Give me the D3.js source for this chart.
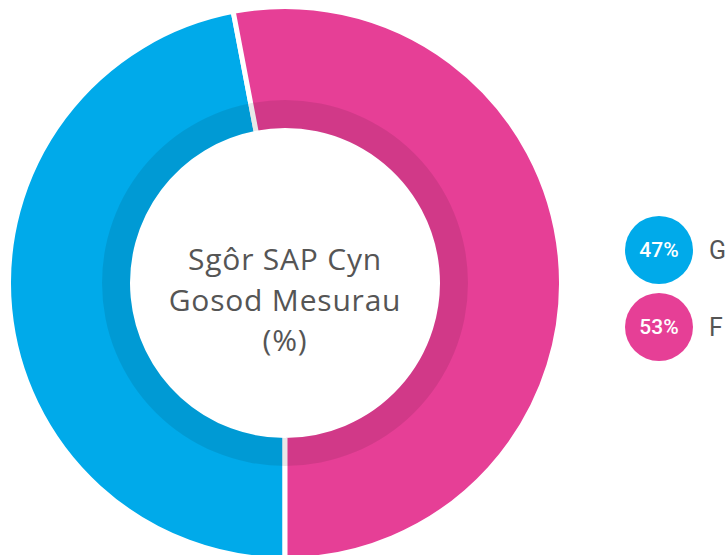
<!DOCTYPE html>
<html>
<head>
<meta charset="utf-8">
<script src="https://cdn.jsdelivr.net/npm/d3@7"></script>
<style>
  body { margin: 0; background: #fff; overflow: hidden; }
  svg { display: block; }
</style>
</head>
<body>
<svg id="chart" width="725" height="555"></svg>
<script>
// Data

var labels = ["G", "F"];
var values = [47, 53];
var colors = ["#00aaea", "#e63f96"];
var titleLines = ["Sgôr SAP Cyn", "Gosod Mesurau", "(%)"];

// Chart

var svg = d3.select("#chart");
var cx = 285, cy = 283;

var pie = d3.pie()
    .sort(null)
    .value(function(d) { return d; })
    .startAngle(Math.PI)
    .endAngle(3 * Math.PI);

// stroke is 5px wide, so pad radii by half of it
var arc = d3.arc().innerRadius(152.5).outerRadius(276.5);
var shade = d3.arc().innerRadius(155).outerRadius(183).startAngle(0).endAngle(2 * Math.PI);

var g = svg.append("g").attr("transform", "translate(" + cx + "," + cy + ")");

g.selectAll("path.slice")
    .data(pie(values))
    .enter()
    .append("path")
    .attr("class", "slice")
    .attr("d", arc)
    .attr("fill", function(d, i) { return colors[i]; })
    .attr("stroke", "#fff")
    .attr("stroke-width", 5);

g.append("path")
    .attr("d", shade())
    .attr("fill", "#000")
    .attr("fill-opacity", 0.09);

g.selectAll("text.title")
    .data(titleLines)
    .enter()
    .append("text")
    .attr("class", "title")
    .attr("x", 0)
    .attr("y", function(d, i) { return -13 + i * 40.5; })
    .attr("text-anchor", "middle")
    .attr("font-family", "'Open Sans', sans-serif")
    .attr("font-size", 30)
    .attr("letter-spacing", 0.8)
    .attr("fill", "#555")
    .text(function(d) { return d; });

// Legend

var legend = svg.selectAll("g.legend")
    .data(values)
    .enter()
    .append("g")
    .attr("class", "legend")
    .attr("transform", function(d, i) { return "translate(659," + (250 + i * 77) + ")"; });

legend.append("circle")
    .attr("r", 34)
    .attr("fill", function(d, i) { return colors[i]; });

legend.append("text")
    .attr("text-anchor", "middle")
    .attr("dy", "0.35em")
    .attr("font-family", "Roboto, sans-serif")
    .attr("font-weight", 500)
    .attr("font-size", 21)
    .attr("fill", "#fff")
    .text(function(d) { return d + "%"; });

legend.append("text")
    .attr("x", 50)
    .attr("dy", "0.35em")
    .attr("font-family", "Roboto, sans-serif")
    .attr("font-size", 25)
    .attr("fill", "#555")
    .text(function(d, i) { return labels[i]; });
</script>
</body>
</html>
